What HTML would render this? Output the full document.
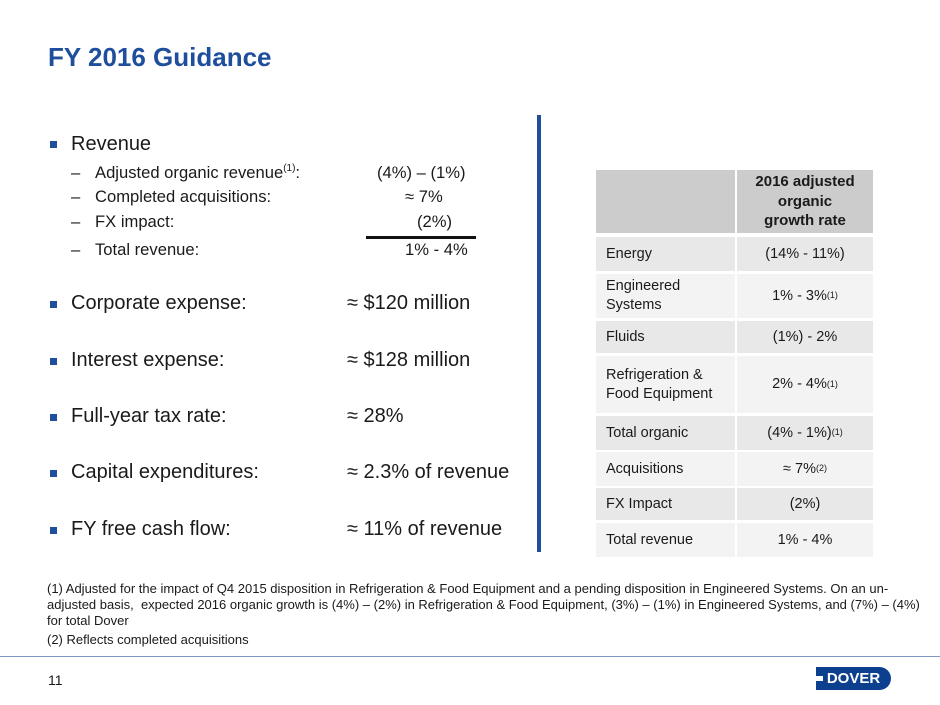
<!DOCTYPE html>
<html><head><meta charset="utf-8"><style>
body{margin:0;width:940px;height:705px;background:#fff;position:relative;overflow:hidden;font-family:"Liberation Sans",Arial,sans-serif;color:#1a1a1a}
.a{position:absolute;white-space:nowrap}
.b{font-size:20px}
.s{font-size:16.6px}
.sq{position:absolute;width:7px;height:7px;background:#1f4e9c}
.cell{position:absolute;font-size:14.5px;display:flex;align-items:center}
sup{font-size:9px;vertical-align:6px}
.s sup{font-size:10px;vertical-align:7px}
.fn{font-size:13px}
</style></head><body>
<div class="a" style="left:48px;top:42px;font-size:26px;font-weight:bold;color:#1f4e9c">FY 2016 Guidance</div>
<div style="position:absolute;left:537px;top:115px;width:4px;height:437px;background:#1f4e9c"></div>

<div class="sq" style="left:50px;top:141px"></div>
<div class="a b" style="left:71px;top:133px">Revenue</div>
<div class="a s" style="left:71px;top:163px">–</div>
<div class="a s" style="left:95px;top:163px">Adjusted organic revenue<sup>(1)</sup>:</div>
<div class="a s" style="left:377px;top:163px">(4%) – (1%)</div>
<div class="a s" style="left:71px;top:187px">–</div>
<div class="a s" style="left:95px;top:187px">Completed acquisitions:</div>
<div class="a s" style="left:405px;top:187px">≈ 7%</div>
<div class="a s" style="left:71px;top:212px">–</div>
<div class="a s" style="left:95px;top:212px">FX impact:</div>
<div class="a s" style="left:417px;top:212px">(2%)</div>
<div style="position:absolute;left:366px;top:236px;width:110px;height:3px;background:#111"></div>
<div class="a s" style="left:71px;top:240px">–</div>
<div class="a s" style="left:95px;top:240px">Total revenue:</div>
<div class="a s" style="left:405px;top:240px">1% - 4%</div>

<div class="sq" style="left:50px;top:301px"></div>
<div class="a b" style="left:71px;top:292px">Corporate expense:</div>
<div class="a b" style="left:347px;top:292px">≈ $120 million</div>
<div class="sq" style="left:50px;top:358px"></div>
<div class="a b" style="left:71px;top:349px">Interest expense:</div>
<div class="a b" style="left:347px;top:349px">≈ $128 million</div>
<div class="sq" style="left:50px;top:414px"></div>
<div class="a b" style="left:71px;top:405px">Full-year tax rate:</div>
<div class="a b" style="left:347px;top:405px">≈ 28%</div>
<div class="sq" style="left:50px;top:470px"></div>
<div class="a b" style="left:71px;top:461px">Capital expenditures:</div>
<div class="a b" style="left:347px;top:461px">≈ 2.3% of revenue</div>
<div class="sq" style="left:50px;top:527px"></div>
<div class="a b" style="left:71px;top:518px">FY free cash flow:</div>
<div class="a b" style="left:347px;top:518px">≈ 11% of revenue</div>

<div id="tbl"></div>

<div class="a fn" style="left:47px;top:581px;line-height:16px;white-space:normal;width:875px">(1) Adjusted for the impact of Q4 2015 disposition in Refrigeration &amp; Food Equipment and a pending disposition in Engineered Systems. On an un-adjusted basis,&nbsp; expected 2016 organic growth is (4%) – (2%) in Refrigeration &amp; Food Equipment, (3%) – (1%) in Engineered Systems, and (7%) – (4%) for total Dover</div>
<div class="a fn" style="left:47px;top:632px">(2) Reflects completed acquisitions</div>
<div style="position:absolute;left:0;top:656px;width:940px;height:1px;background:#7f97c4"></div>
<div class="a" style="left:48px;top:672px;font-size:14px">11</div>
<div style="position:absolute;left:816px;top:667px;width:75px;height:23px;background:#0d3f8f;border-radius:0 12px 12px 0;color:#fff;font-weight:bold;font-size:15px;line-height:23px;text-align:center">DOVER</div>
<div style="position:absolute;left:816px;top:676px;width:7px;height:5px;background:#fff"></div>

<script>
const rowLabels=["Energy","Engineered<br>Systems","Fluids","Refrigeration &amp;<br>Food Equipment","Total organic","Acquisitions","FX Impact","Total revenue"];
const rowValues=["(14% - 11%)","1% - 3% <sup>(1)</sup>","(1%) - 2%","2% - 4% <sup>(1)</sup>","(4% - 1%) <sup>(1)</sup>","≈ 7% <sup>(2)</sup>","(2%)","1% - 4%"];
const rowTops=[237,274,321,356,416,452,488,523];
const rowBots=[271,318,353,413,450,486,520,557];
const t=document.getElementById('tbl');
function cell(x,y,w,h,bg,html,center,bold,name){
  const d=document.createElement('div');
  d.className='cell';
  
  
  d.style.cssText=`left:${x}px;top:${y}px;width:${w}px;height:${h}px;background:${bg};justify-content:${center?'center':'flex-start'};text-align:${center?'center':'left'};font-weight:${bold?'bold':'normal'};padding-left:${center?0:10}px;box-sizing:border-box;line-height:1.3`;
  d.innerHTML=html;t.appendChild(d);
}
cell(596,170,139,63,'#cccccc','',false,false,'table-header-blank');
cell(737,170,136,63,'#cccccc','<span style="font-size:15px">2016 adjusted<br>organic<br>growth rate</span>',true,true,'table-header');
rowLabels.forEach((l,i)=>{
  const bg=i%2===0?'#e8e8e8':'#f3f3f3';
  const h=rowBots[i]-rowTops[i];
  cell(596,rowTops[i],139,h,bg,l,false,false,'row-label');
  cell(737,rowTops[i],136,h,bg,rowValues[i],true,false,'row-value');
});
</script>
</body></html>
